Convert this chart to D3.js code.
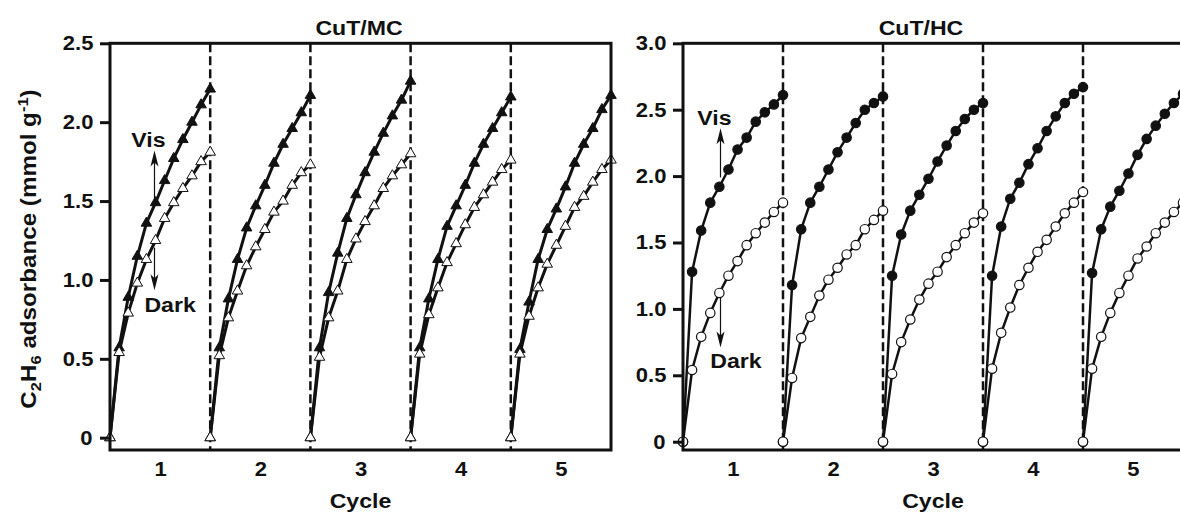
<!DOCTYPE html>
<html>
<head>
<meta charset="utf-8">
<script src="https://cdn.jsdelivr.net/npm/d3@7"></script>
<style>
  body { margin: 0; background: #fff; }
  svg { display: block; font-family: "Liberation Sans", Arial, sans-serif; font-weight: bold; }
  svg text { transform-box: fill-box; transform-origin: center; transform: scaleX(1.1); fill: #111; }
</style>
</head>
<body>
<div id="chart"></div>
<script>
// cycles on the x axis, 12 readings inside each cycle
const cycles = [1, 2, 3, 4, 5];
const steps = [0, 1, 2, 3, 4, 5, 6, 7, 8, 9, 10, 11];
const cycleBreaks = [1.5, 2.5, 3.5, 4.5];

// CuT/MC (mmol g-1), one row per cycle
const mcVis = [
  [0, 0.57, 0.89, 1.15, 1.36, 1.49, 1.63, 1.77, 1.89, 2.00, 2.11, 2.21],
  [0, 0.57, 0.88, 1.13, 1.33, 1.47, 1.60, 1.74, 1.86, 1.96, 2.06, 2.17],
  [0, 0.57, 0.92, 1.17, 1.39, 1.54, 1.68, 1.81, 1.93, 2.04, 2.14, 2.26],
  [0, 0.57, 0.88, 1.13, 1.34, 1.47, 1.60, 1.74, 1.86, 1.96, 2.06, 2.16],
  [0, 0.56, 0.86, 1.13, 1.32, 1.45, 1.59, 1.74, 1.86, 1.96, 2.08, 2.17],
];
const mcDark = [
  [0, 0.54, 0.79, 0.98, 1.13, 1.25, 1.39, 1.49, 1.58, 1.66, 1.75, 1.81],
  [0, 0.52, 0.76, 0.93, 1.09, 1.21, 1.32, 1.43, 1.50, 1.60, 1.68, 1.73],
  [0, 0.51, 0.76, 0.93, 1.13, 1.26, 1.37, 1.47, 1.58, 1.66, 1.73, 1.80],
  [0, 0.53, 0.78, 0.95, 1.11, 1.23, 1.35, 1.46, 1.54, 1.62, 1.70, 1.76],
  [0, 0.53, 0.77, 0.95, 1.10, 1.22, 1.34, 1.46, 1.53, 1.62, 1.70, 1.76],
];

// CuT/HC
const hcVis = [
  [0, 1.28, 1.59, 1.80, 1.92, 2.05, 2.20, 2.29, 2.41, 2.48, 2.54, 2.61],
  [0, 1.18, 1.60, 1.80, 1.92, 2.05, 2.18, 2.29, 2.40, 2.50, 2.55, 2.60],
  [0, 1.25, 1.56, 1.74, 1.86, 1.98, 2.11, 2.23, 2.34, 2.43, 2.50, 2.55],
  [0, 1.25, 1.62, 1.83, 1.95, 2.09, 2.21, 2.34, 2.45, 2.55, 2.62, 2.67],
  [0, 1.27, 1.60, 1.77, 1.89, 2.02, 2.16, 2.28, 2.38, 2.47, 2.55, 2.62],
];
const hcDark = [
  [0, 0.54, 0.79, 0.97, 1.12, 1.25, 1.36, 1.48, 1.57, 1.65, 1.73, 1.80],
  [0, 0.48, 0.78, 0.94, 1.10, 1.22, 1.31, 1.41, 1.48, 1.60, 1.67, 1.74],
  [0, 0.51, 0.75, 0.92, 1.07, 1.19, 1.28, 1.39, 1.48, 1.57, 1.65, 1.72],
  [0, 0.55, 0.82, 1.01, 1.18, 1.31, 1.43, 1.52, 1.62, 1.72, 1.80, 1.88],
  [0, 0.55, 0.79, 0.97, 1.12, 1.25, 1.38, 1.47, 1.57, 1.65, 1.73, 1.80],
];

const mcTicks = [0, 0.5, 1.0, 1.5, 2.0, 2.5];
const hcTicks = [0, 0.5, 1.0, 1.5, 2.0, 2.5, 3.0];

const ink = "#111";
const width = 1180;
const height = 514;
const plotTop = 43.3;
const plotBottom = 450;

const svg = d3
  .select("#chart")
  .append("svg")
  .attr("width", width)
  .attr("height", height);

function toPoints(rows) {
  return rows.map((vals, ci) =>
    steps.map((s) => ({ x: cycles[ci] - 0.5 + s / 11, v: vals[s] }))
  );
}

function arrow(g, x, y, cx, v0, v1) {
  const px = x(cx);
  const y0 = y(v0);
  const y1 = y(v1);
  const dir = y1 < y0 ? 1 : -1;
  g.append("line")
    .attr("x1", px)
    .attr("x2", px)
    .attr("y1", y0)
    .attr("y2", y1 + dir * 10)
    .style("stroke", ink)
    .style("stroke-width", "1.2px");
  g.append("path")
    .attr(
      "d",
      `M${px},${y1} L${px - 4},${y1 + dir * 16} L${px},${y1 + dir * 12} L${px + 4},${y1 + dir * 16} Z`
    )
    .style("fill", ink);
}

function drawPanel(opts) {
  const x = d3.scaleLinear().domain([0.5, 5.5]).range([opts.left, opts.right]);
  const y = d3.scaleLinear().domain([opts.yMin, opts.yMax]).range([plotBottom, plotTop]);
  const g = svg.append("g");

  // cycle separators
  g.selectAll(".sep")
    .data(cycleBreaks)
    .enter()
    .append("line")
    .attr("x1", (d) => x(d))
    .attr("x2", (d) => x(d))
    .attr("y1", plotTop)
    .attr("y2", plotBottom)
    .style("stroke", ink)
    .style("stroke-width", "2.5px")
    .style("stroke-dasharray", "9,4");

  const line = d3
    .line()
    .x((d) => x(d.x))
    .y((d) => y(d.v));

  const vis = toPoints(opts.vis);
  const dark = toPoints(opts.dark);

  [vis, dark].forEach((series) => {
    g.selectAll(null)
      .data(series)
      .enter()
      .append("path")
      .attr("d", line)
      .style("fill", "none")
      .style("stroke", ink)
      .style("stroke-width", opts.lineWidth + "px")
      .style("stroke-linejoin", "round");
  });

  const markers = (series, filled) => {
    const pts = series.flat();
    if (opts.marker === "triangle") {
      g.selectAll(null)
        .data(pts)
        .enter()
        .append("path")
        .attr("d", d3.symbol(d3.symbolTriangle, 48))
        .attr("transform", (d) => `translate(${x(d.x)},${y(d.v)})`)
        .style("fill", filled ? ink : "#fff")
        .style("stroke", ink)
        .style("stroke-width", "1px");
    } else {
      g.selectAll(null)
        .data(pts)
        .enter()
        .append("circle")
        .attr("cx", (d) => x(d.x))
        .attr("cy", (d) => y(d.v))
        .attr("r", 4.7)
        .style("fill", filled ? ink : "#fff")
        .style("stroke", ink)
        .style("stroke-width", "1.2px");
    }
  };
  markers(vis, true);
  markers(dark, false);

  // frame
  g.append("rect")
    .attr("x", x(0.5))
    .attr("y", plotTop)
    .attr("width", x(5.5) - x(0.5))
    .attr("height", plotBottom - plotTop)
    .style("fill", "none")
    .style("stroke", ink)
    .style("stroke-width", "3px");

  const yAxis = g
    .append("g")
    .attr("transform", `translate(${x(0.5)},0)`)
    .call(
      d3
        .axisLeft(y)
        .tickValues(opts.ticks)
        .tickSize(10)
        .tickPadding(8)
        .tickFormat((d) => (d === 0 ? "0" : d.toFixed(1)))
    );
  yAxis.attr("font-family", null).attr("font-size", null);
  yAxis.select(".domain").remove();
  yAxis.selectAll(".tick line").style("stroke", ink).style("stroke-width", "3px");
  yAxis.selectAll("text").style("font-size", "20px");

  const xAxis = g
    .append("g")
    .attr("transform", `translate(0,${plotBottom})`)
    .call(
      d3
        .axisBottom(x)
        .tickValues(cycles)
        .tickSize(0)
        .tickPadding(12)
        .tickFormat(d3.format("d"))
    );
  xAxis.attr("font-family", null).attr("font-size", null);
  xAxis.select(".domain").remove();
  xAxis.selectAll("text").style("font-size", "20px");

  g.append("text")
    .attr("x", (opts.left + opts.right) / 2)
    .attr("y", 508)
    .attr("text-anchor", "middle")
    .style("font-size", "21px")
    .text("Cycle");

  g.append("text")
    .attr("x", opts.titleX)
    .attr("y", 35)
    .attr("text-anchor", "middle")
    .style("font-size", "21px")
    .text(opts.title);

  // Vis / Dark annotations
  const n = opts.notes;
  arrow(g, x, y, n.ax, n.visFrom, n.visTo);
  arrow(g, x, y, n.ax, n.darkFrom, n.darkTo);
  g.append("text")
    .attr("x", x(n.visX))
    .attr("y", y(n.visY))
    .attr("text-anchor", "middle")
    .style("font-size", "21px")
    .text("Vis");
  g.append("text")
    .attr("x", x(n.darkX))
    .attr("y", y(n.darkY))
    .attr("text-anchor", "middle")
    .style("font-size", "21px")
    .text("Dark");
}

drawPanel({
  left: 110,
  right: 611,
  yMin: -0.078,
  yMax: 2.5,
  ticks: mcTicks,
  vis: mcVis,
  dark: mcDark,
  marker: "triangle",
  lineWidth: 3,
  title: "CuT/MC",
  titleX: 359,
  notes: { ax: 0.944, visFrom: 1.5, visTo: 1.82, darkFrom: 1.205, darkTo: 0.935,
           visX: 0.884, visY: 1.84, darkX: 1.1, darkY: 0.797 },
});

drawPanel({
  left: 683,
  right: 1183,
  yMin: -0.0625,
  yMax: 3.0,
  ticks: hcTicks,
  vis: hcVis,
  dark: hcDark,
  marker: "circle",
  lineWidth: 2.5,
  title: "CuT/HC",
  titleX: 921,
  notes: { ax: 0.875, visFrom: 1.99, visTo: 2.36, darkFrom: 1.09, darkTo: 0.71,
           visX: 0.815, visY: 2.385, darkX: 1.03, darkY: 0.555 },
});

// shared y label with sub/superscripts
const yLab = svg
  .append("g")
  .attr("transform", "translate(36,249) rotate(-90)")
  .append("text")
  .attr("text-anchor", "middle")
  .style("font-size", "22px");
yLab.append("tspan").text("C");
yLab.append("tspan").attr("dy", 5).style("font-size", "15px").text("2");
yLab.append("tspan").attr("dy", -5).text("H");
yLab.append("tspan").attr("dy", 5).style("font-size", "15px").text("6");
yLab.append("tspan").attr("dy", -5).text(" adsorbance (mmol g");
yLab.append("tspan").attr("dy", -8).style("font-size", "15px").text("-1");
yLab.append("tspan").attr("dy", 8).text(")");
</script>
</body>
</html>
